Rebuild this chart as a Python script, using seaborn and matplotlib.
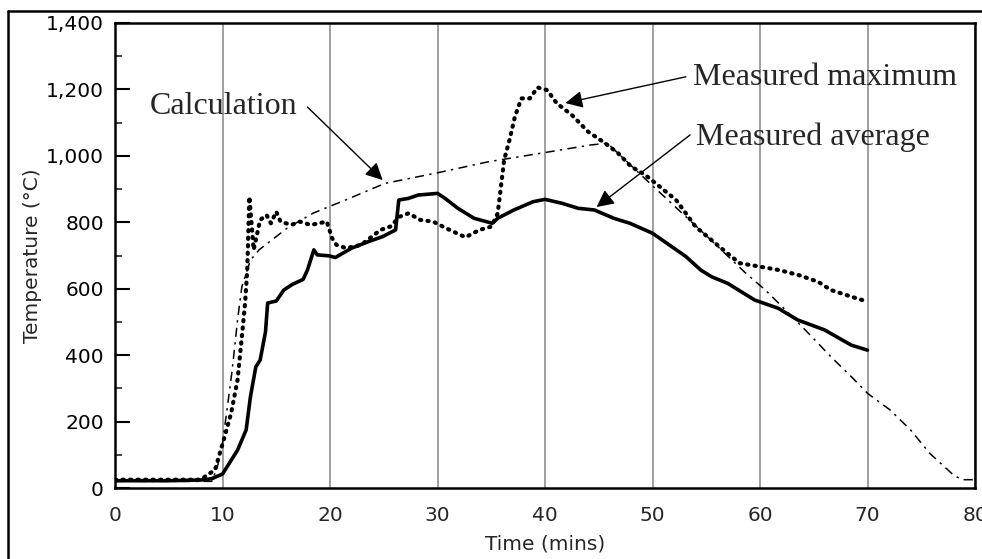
import matplotlib.pyplot as plt
import seaborn as sns
from matplotlib.lines import Line2D
from matplotlib.ticker import MultipleLocator, FuncFormatter

# data (time in minutes, temperature in deg C)
avg_time = [0, 5, 8, 9, 10, 11.4, 12.2, 12.6, 13.1, 13.5, 14.0, 14.2, 15.0, 15.7, 16.5, 17.5,
            17.9, 18.5, 18.8, 19.9, 20.5, 22.0, 23.6, 24.9, 26.1, 26.4, 27.3, 28.2, 30.0, 30.7,
            31.9, 33.4, 35.1, 35.6, 37.1, 38.9, 40.0, 41.6, 43.1, 44.6, 46.4, 47.9, 50.0, 53.1,
            54.5, 55.5, 57.0, 59.5, 61.7, 63.5, 66.0, 68.5, 70.0]
avg_temp = [22, 22, 24, 28, 42, 114, 175, 275, 365, 385, 470, 557, 563, 596, 613, 628,
            656, 717, 702, 699, 694, 722, 742, 757, 777, 867, 872, 882, 887, 872,
            842, 812, 797, 812, 837, 862, 869, 857, 842, 837, 812, 797, 767, 697,
            656, 636, 616, 566, 541, 506, 476, 430, 415]

max_time = [0, 8, 8.6, 9.3, 10.2, 10.8, 11.4, 11.8, 12.1, 12.3, 12.5, 12.9, 13.5, 14.1, 14.5,
            15.0, 15.4, 16.4, 17.2, 18.2, 19.7, 20.2, 20.6, 21.5, 22.9, 24.7, 25.6, 26.5, 27.3,
            28.4, 29.6, 30.8, 32.6, 33.9, 35.0, 35.6, 35.9, 36.2, 36.7, 37.2, 37.8, 38.6, 39.3,
            40.2, 41.1, 42.5, 44.0, 45.6, 46.8, 48.0, 49.3, 50.0, 52.2, 54.0, 56.2, 58.1, 59.9,
            61.8, 63.6, 65.4, 66.6, 68.5, 70.0]
max_temp = [25, 25, 40, 54, 155, 225, 325, 455, 556, 656, 877, 717, 807, 822, 797,
            832, 802, 792, 802, 792, 802, 752, 732, 722, 732, 777, 787, 817, 827,
            807, 802, 782, 755, 777, 787, 827, 907, 988, 1048, 1118, 1173, 1173, 1206,
            1198, 1158, 1123, 1073, 1038, 1008, 968, 943, 925, 867, 787, 727, 677, 667,
            656, 641, 621, 596, 576, 561]

calc_time = [0, 9.0, 9.5, 10.0, 10.5, 10.9, 11.4, 11.8, 12.6, 13.4, 16.0, 18.4, 19.9, 21.3,
             25.1, 30.0, 34.7, 40.0, 44.3, 45.8, 50.0, 55.0, 58.7, 60.5, 63.3, 64.8, 66.6,
             68.5, 70.0, 72.1, 74.0, 75.8, 78.0, 78.8, 80.0]
calc_temp = [20, 20, 60, 135, 255, 355, 506, 606, 686, 717, 782, 827, 847, 865,
             917, 949, 982, 1010, 1033, 1038, 910, 760, 646, 596, 506, 456, 395,
             335, 285, 235, 175, 104, 39, 25, 25]

x_ticks = [0, 10, 20, 30, 40, 50, 60, 70, 80]

sns.set_style('white')
plt.rcParams['font.family'] = ['DejaVu Sans']

fig = plt.figure(figsize=(9.82, 5.59), dpi=100)
ax = fig.add_axes([115 / 982, 71 / 559, 860 / 982, 465 / 559])

# the three curves
sns.lineplot(x=avg_time, y=avg_temp, ax=ax, color='black', linewidth=2.6, sort=False)
sns.lineplot(x=max_time, y=max_temp, ax=ax, color='black', linewidth=3.0, sort=False,
             linestyle=(0, (0.3, 1.5)), dash_capstyle='round')
sns.lineplot(x=calc_time, y=calc_temp, ax=ax, color='black', linewidth=1.1, sort=False,
             linestyle=(0, (6, 3.5, 1.5, 3.5)))

# axes limits, ticks and grid
ax.set_xlim(0, 80)
ax.set_ylim(0, 1400)
ax.set_xticks(x_ticks)
ax.yaxis.set_major_locator(MultipleLocator(200))
ax.yaxis.set_minor_locator(MultipleLocator(100))
ax.yaxis.set_major_formatter(FuncFormatter(lambda v, pos: f"{v:,.0f}"))
ax.tick_params(axis='y', which='major', direction='in', length=11, width=1.5,
               labelsize=14.5, pad=8, left=True, colors='black')
ax.tick_params(axis='y', which='minor', direction='in', length=5, width=1.2, left=True)
ax.tick_params(axis='x', length=0, labelsize=14.5, pad=13)
ax.xaxis.grid(True, color='#8f8f8f', linewidth=1.2)
ax.yaxis.grid(False)
for side in ax.spines.values():
    side.set_color('black')
    side.set_linewidth(1.8)

# axis labels
ax.set_xlabel('Time (mins)', fontsize=14.5, labelpad=7)
ax.set_ylabel('Temperature (°C)', fontsize=14.5, labelpad=3)

# annotations with arrows
serif = ['Liberation Serif', 'DejaVu Serif']
ax.text(3.25, 1150, 'Calculation', family=serif, fontsize=23, va='center', ha='left')
ax.text(53.8, 1236, 'Measured maximum', family=serif, fontsize=23, va='center', ha='left')
ax.text(54.0, 1057, 'Measured average', family=serif, fontsize=23, va='center', ha='left')

arrow = dict(arrowstyle='-|>', color='black', linewidth=1.0, mutation_scale=26,
             shrinkA=0, shrinkB=0)
ax.annotate('', xy=(24.9, 927), xytext=(17.9, 1147), arrowprops=arrow)
ax.annotate('', xy=(41.9, 1159), xytext=(53.1, 1238), arrowprops=arrow)
ax.annotate('', xy=(44.8, 846), xytext=(53.5, 1063), arrowprops=arrow)

# outer frame of the scanned figure (left and top edges)
fig.add_artist(Line2D([8 / 982, 8 / 982], [0, 1 - 11 / 559], color='black', linewidth=1.8,
                      transform=fig.transFigure))
fig.add_artist(Line2D([8 / 982, 1], [1 - 11 / 559, 1 - 11 / 559], color='black', linewidth=1.8,
                      transform=fig.transFigure))

fig.savefig('out.png', dpi=100)
